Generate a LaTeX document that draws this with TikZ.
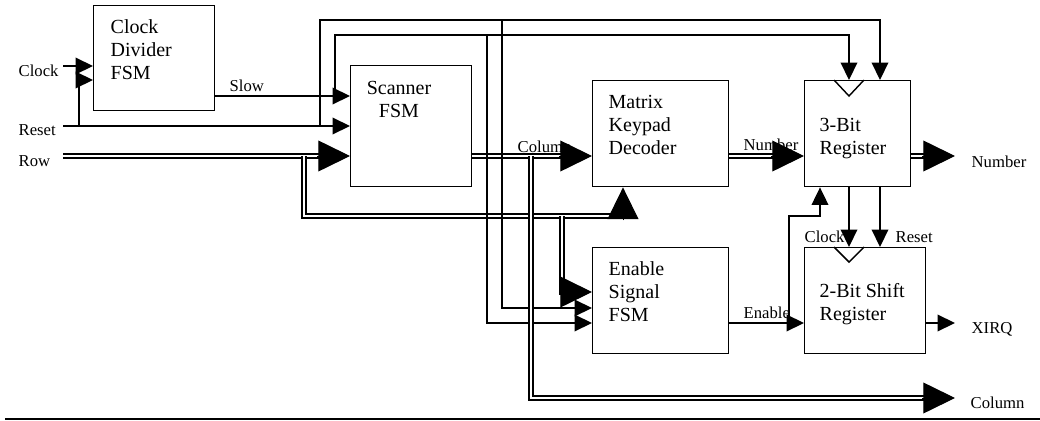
\documentclass[tikz,border=0pt]{standalone}
\usepackage{fontspec}
\setmainfont{Liberation Serif}
\usetikzlibrary{arrows.meta,calc}
\begin{document}
\begin{tikzpicture}[x=0.6pt,y=-0.6pt,line width=0.85pt,
  box/.style={draw,anchor=north west,inner sep=0pt},
  boxtext/.style={inner sep=0pt,anchor=base west,align=left,font=\fontsize{12}{13.8}\selectfont},
  lbl/.style={inner sep=0pt,anchor=base west,font=\fontsize{10}{12}\selectfont},
  sarr/.style={-{Triangle[length=10.5pt,width=10pt]}},
  bus/.style={double,double distance=1.4pt,line width=0.95pt,shorten >=12pt},
  bigtip/.style={-{Triangle[length=19pt,width=18.5pt]},line width=0.6pt}]
\useasboundingbox (0,0) rectangle (1040,421);

% labels
\node[lbl] (lclk) at (18,76) {Clock};
\node[lbl] (lrst) at (18,135) {Reset};
\node[lbl] (lrow) at (18,166) {Row};
\node[lbl] (lslow) at (229,91) {Slow};
\node[lbl] (lcol) at (517,152) {Column};
\node[lbl] (lnum) at (743,150) {Number};
\node[lbl] (lnumo) at (971,167) {Number};
\node[lbl] (lclk2) at (804,242) {Clock};
\node[lbl] (lrst2) at (895,242) {Reset};
\node[lbl] (len) at (743,318) {Enable};
\node[lbl] (lxirq) at (971,333) {XIRQ};
\node[lbl] (lcolo) at (970,408) {Column};

% boxes
\node[box,minimum width=72.6pt,minimum height=63pt] (cd) at (93,5) {};
\node[box,minimum width=72.6pt,minimum height=72.6pt] (sc) at (350,65) {};
\node[box,minimum width=81.6pt,minimum height=63.6pt] (md) at (592,80) {};
\node[box,minimum width=63.6pt,minimum height=63.6pt] (r3) at (804,80) {};
\node[box,minimum width=81.6pt,minimum height=63.6pt] (en) at (592,247) {};
\node[box,minimum width=72.6pt,minimum height=63.6pt] (r2) at (804,247) {};
\draw (834,80) -- (849,96) -- (864,80);
\draw (834,247) -- (849,262) -- (864,247);

% box texts (base anchor = baseline of the last line)
\node[boxtext] (tcd) at (110,79) {Clock\\Divider\\FSM};
\node[boxtext,align=center,anchor=base] (tsc) at (399,117) {Scanner\\FSM};
\node[boxtext] (tmd) at (608,154) {Matrix\\Keypad\\Decoder};
\node[boxtext] (tr3) at (819,154) {3-Bit\\Register};
\node[boxtext] (ten) at (608,321) {Enable\\Signal\\FSM};
\node[boxtext] (tr2) at (819,320) {2-Bit Shift\\Register};

% coordinates
\coordinate (clkin) at (63,66);
\coordinate (rstin) at (63,126);
\coordinate (rowin) at (63,156);
\coordinate (rstj) at (79,126);
\coordinate (rstup) at (320,126);
\coordinate (slowup) at (335,96);
\coordinate (rowj) at (304,156);
\coordinate (rowj2) at (562,216);
\coordinate (colj) at (531,156);
\coordinate (enj) at (789,323);
\coordinate (rstdn) at (502,20);
\coordinate (slowdn) at (487,35);
\coordinate (xirqout) at (955,323);
\coordinate (numout) at (955,156);
\coordinate (colout) at (955,398);
\coordinate (rowtip) at (sc.west |- 0,156);
\coordinate (coltip) at (md.west |- 0,156);
\coordinate (numtip) at (r3.west |- 0,156);
\coordinate (mdtip) at (md.south -| 623,0);
\coordinate (entip) at (en.west |- 0,292);

% horizontal buses
\draw[bus] (rowin) -- (rowtip);
\draw[bus] (sc.east |- 0,156) -- (coltip);
\draw[bus] (md.east |- 0,156) -- (numtip);
\draw[bus] (r3.east |- 0,156) -- (numout);
\draw[bus] (rowj) |- (623,216) -- (mdtip);
\draw[bus] (rowj2) |- (entip);

% single signals
\draw[sarr] (clkin) -- (clkin -| cd.west);
\draw[sarr] (rstin) -- (rstin -| sc.west);
\draw[sarr] (rstj) |- (cd.west |- 0,80);
\draw[sarr] (cd.east |- 0,96) -- (sc.west |- 0,96);
\draw[sarr] (rstup) |- (880,20) -- (r3.north -| 880,0);
\draw[sarr] (slowup) |- (849,35) -- (r3.north -| 849,0);
\draw[sarr] (rstdn) |- (en.west |- 0,308);
\draw[sarr] (slowdn) |- (en.west |- 0,323);
\draw[sarr] (r3.south -| 849,0) -- (r2.north -| 849,0);
\draw[sarr] (r3.south -| 880,0) -- (r2.north -| 880,0);
\draw[sarr] (en.east |- 0,323) -- (r2.west |- 0,323);
\draw[sarr] (enj) |- (820,216) -- (r3.south -| 820,0);
\draw[sarr] (r2.east |- 0,323) -- (xirqout);

% column bus down
\draw[bus] (colj) |- (colout);

% big arrow tips
\draw[bigtip] ($(rowtip)+(-33,0)$) -- (rowtip);
\draw[bigtip] ($(coltip)+(-33,0)$) -- (coltip);
\draw[bigtip] ($(numtip)+(-33,0)$) -- (numtip);
\draw[bigtip] ($(numout)+(-33,0)$) -- (numout);
\draw[bigtip] ($(colout)+(-33,0)$) -- (colout);
\draw[bigtip] ($(entip)+(-33,0)$) -- (entip);
\draw[bigtip] ($(mdtip)+(0,33)$) -- (mdtip);

% bottom rule
\draw[line width=1.3pt] (5,419) -- (1040,419);
\end{tikzpicture}
\end{document}
